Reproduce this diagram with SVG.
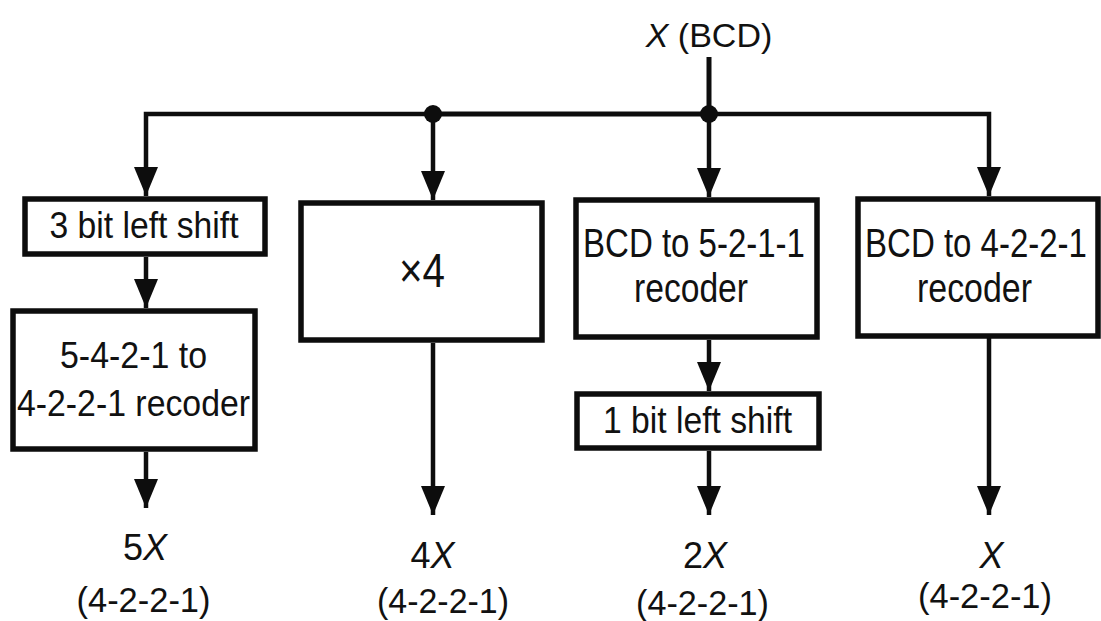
<svg xmlns="http://www.w3.org/2000/svg" width="1101" height="621" viewBox="0 0 1101 621">
  <style>
    .box { fill: #ffffff; stroke: #0d0d0d; stroke-width: 5.5; }
    .wire { fill: none; stroke: #0d0d0d; stroke-width: 5; stroke-linejoin: miter; }
    .arr { fill: none; stroke: #0d0d0d; stroke-width: 4.5; marker-end: url(#ah); }
    text { font-family: "Liberation Sans", Arial, sans-serif; fill: #111; text-anchor: middle; }
    .t37 { font-size: 37px; }
    .t40 { font-size: 40px; }
    .t35 { font-size: 35px; }
    .t36 { font-size: 36px; }
    .it { font-style: italic; }
  </style>
  <defs>
    <marker id="ah" viewBox="0 0 29 24" refX="29" refY="12" markerWidth="29" markerHeight="24" markerUnits="userSpaceOnUse" orient="auto">
      <path d="M0,0 L29,12 L0,24 Z" fill="#0d0d0d"/>
    </marker>
  </defs>
  <rect width="1101" height="621" fill="#ffffff"/>

  <g id="connectors">
    <path class="wire" d="M709,57 V114"/>
    <path class="wire" d="M433,114 H709"/>
    <path class="arr" d="M433,114 H146 V196"/>
    <path class="arr" d="M709,114 H989 V196"/>
    <path class="arr" d="M433,114 V200"/>
    <path class="arr" d="M709,114 V197"/>
    <path class="arr" d="M146,257 V308"/>
    <path class="arr" d="M146,452 V508"/>
    <path class="arr" d="M433,343 V515"/>
    <path class="arr" d="M709,340 V391"/>
    <path class="arr" d="M709,451 V515"/>
    <path class="arr" d="M989,338 V515"/>
    <circle cx="433" cy="114" r="9" fill="#0d0d0d"/>
    <circle cx="709" cy="114" r="9" fill="#0d0d0d"/>
  </g>

  <g id="input">
    <text x="709" y="47" style="font-size:34px"><tspan class="it">X</tspan> (BCD)</text>
  </g>

  <g id="shift3">
    <rect class="box" x="25" y="199" width="240" height="55"/>
    <text class="t37" x="144" y="238" textLength="189" lengthAdjust="spacingAndGlyphs">3 bit left shift</text>
  </g>

  <g id="recoder5421">
    <rect class="box" x="13" y="311" width="242" height="138"/>
    <text class="t37" x="133.5" y="368" textLength="147" lengthAdjust="spacingAndGlyphs">5-4-2-1 to</text>
    <text class="t37" x="133.5" y="416" textLength="233" lengthAdjust="spacingAndGlyphs">4-2-2-1 recoder</text>
  </g>

  <g id="times4">
    <rect class="box" x="301" y="203" width="241" height="137"/>
    <text x="422" y="287" style="font-size:48px" textLength="46" lengthAdjust="spacingAndGlyphs">×4</text>
  </g>

  <g id="recoder5211">
    <rect class="box" x="576" y="200" width="241" height="137"/>
    <text class="t40" transform="translate(694,257) scale(0.825,1)" x="0" y="0">BCD to 5-2-1-1</text>
    <text class="t40" x="691" y="302" textLength="114" lengthAdjust="spacingAndGlyphs">recoder</text>
  </g>

  <g id="shift1">
    <rect class="box" x="577" y="394" width="242" height="54"/>
    <text class="t37" x="697.5" y="433" textLength="189" lengthAdjust="spacingAndGlyphs">1 bit left shift</text>
  </g>

  <g id="recoder4221">
    <rect class="box" x="858" y="199" width="240" height="137"/>
    <text class="t40" transform="translate(976,257) scale(0.825,1)" x="0" y="0">BCD to 4-2-2-1</text>
    <text class="t40" x="974.5" y="302" textLength="115" lengthAdjust="spacingAndGlyphs">recoder</text>
  </g>

  <g id="out5x">
    <text class="t36" x="145" y="560">5<tspan class="it">X</tspan></text>
    <text class="t35" x="143.5" y="612" textLength="134" lengthAdjust="spacingAndGlyphs">(4-2-2-1)</text>
  </g>
  <g id="out4x">
    <text class="t36" x="432.5" y="568">4<tspan class="it">X</tspan></text>
    <text class="t35" x="443" y="613" textLength="132" lengthAdjust="spacingAndGlyphs">(4-2-2-1)</text>
  </g>
  <g id="out2x">
    <text class="t36" x="705" y="568">2<tspan class="it">X</tspan></text>
    <text class="t35" x="702.5" y="615" textLength="133" lengthAdjust="spacingAndGlyphs">(4-2-2-1)</text>
  </g>
  <g id="out1x">
    <text class="t36 it" x="991.5" y="568">X</text>
    <text class="t35" x="985" y="608" textLength="134" lengthAdjust="spacingAndGlyphs">(4-2-2-1)</text>
  </g>
</svg>
